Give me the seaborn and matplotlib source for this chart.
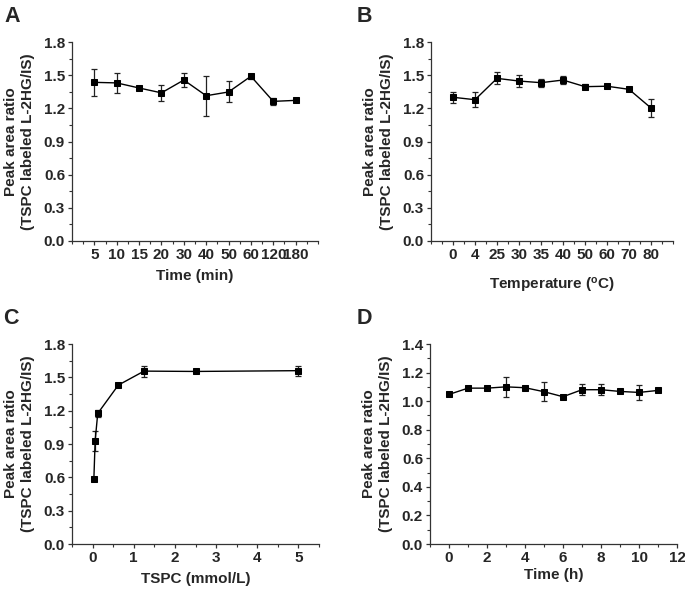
import numpy as np
import pandas as pd
import seaborn as sns
import matplotlib.pyplot as plt
from matplotlib.ticker import MultipleLocator

# Panel A - reaction time
time_min_labels = ['5', '10', '15', '20', '30', '40', '50', '60', '120', '180']
ratio_a = [1.435, 1.43, 1.384, 1.34, 1.456, 1.314, 1.348, 1.49, 1.263, 1.272]
err_a = [0.125, 0.09, 0.01, 0.07, 0.06, 0.18, 0.095, 0.025, 0.03, 0.015]

# Panel B - temperature
temp_labels = ['0', '4', '25', '30', '35', '40', '50', '60', '70', '80']
ratio_b = [1.30, 1.278, 1.471, 1.447, 1.432, 1.456, 1.396, 1.40, 1.372, 1.203]
err_b = [0.05, 0.07, 0.055, 0.05, 0.035, 0.04, 0.02, 0.02, 0.01, 0.085]

# Panel C - TSPC concentration
tspc_conc = [0.03125, 0.0625, 0.125, 0.625, 1.25, 2.5, 5]
ratio_c = [0.586, 0.93, 1.175, 1.43, 1.556, 1.553, 1.56]
err_c = [0.02, 0.09, 0.03, 0.01, 0.05, 0.008, 0.045]

# Panel D - stability over hours
time_h = [0, 1, 2, 3, 4, 5, 6, 7, 8, 9, 10, 11]
ratio_d = [1.047, 1.091, 1.091, 1.10, 1.094, 1.066, 1.031, 1.08, 1.08, 1.068, 1.061, 1.075]
err_d = [0.006, 0.006, 0.005, 0.07, 0.006, 0.068, 0.01, 0.04, 0.04, 0.005, 0.05, 0.006]

sns.set_style("ticks")
plt.rcParams['font.family'] = ['Liberation Sans', 'DejaVu Sans']
plt.rcParams['font.weight'] = 'bold'
plt.rcParams['axes.labelweight'] = 'bold'
plt.rcParams['mathtext.default'] = 'regular'

fig = plt.figure(figsize=(6.85, 5.9), dpi=100)
W, H = 685, 590
FS = 11


def make_ax(l, r, t, b):
    return fig.add_axes([l / W, 1 - b / H, (r - l) / W, (b - t) / H])


def draw(ax, x, y, err):
    df = pd.DataFrame({'x': x, 'y': y})
    ax.errorbar(x, y, yerr=err, fmt='none', ecolor='#222222', elinewidth=0.9,
                capsize=2.5, capthick=0.9, zorder=2)
    sns.lineplot(data=df, x='x', y='y', ax=ax, color='black', linewidth=1,
                 marker='s', markersize=4, markeredgecolor='black', zorder=3)


def style(ax, xlabel, ylim, ymajor, xpad=4):
    ax.set_ylim(*ylim)
    ax.yaxis.set_major_locator(MultipleLocator(ymajor))
    ax.yaxis.set_minor_locator(MultipleLocator(ymajor / 2))
    ax.yaxis.set_major_formatter(plt.FormatStrFormatter('%.1f'))
    ax.set_xlabel(xlabel, fontsize=FS, fontweight='bold', labelpad=xpad)
    ax.set_ylabel('Peak area ratio\n(TSPC labeled L-2HG/IS)', fontsize=FS,
                  fontweight='bold', labelpad=6, linespacing=1.3)
    ax.tick_params(axis='both', which='major', direction='out', length=3,
                   width=0.9, labelsize=FS, color='#333333', pad=2)
    ax.tick_params(axis='both', which='minor', direction='out', length=2,
                   width=0.8, color='#333333')
    for lab in ax.get_xticklabels() + ax.get_yticklabels():
        lab.set_fontweight('bold')
    for s in ['left', 'bottom']:
        ax.spines[s].set_linewidth(0.9)
        ax.spines[s].set_color('#333333')
    sns.despine(ax=ax)


# A
ax_a = make_ax(72, 318, 42, 241)
pos_a = np.arange(1, len(time_min_labels) + 1)
draw(ax_a, pos_a, ratio_a, err_a)
ax_a.set_xlim(0, 11)
ax_a.set_xticks(pos_a)
ax_a.set_xticklabels(time_min_labels)
ax_a.xaxis.set_minor_locator(MultipleLocator(0.5))
style(ax_a, 'Time (min)', (0, 1.8), 0.3, xpad=5)

# B
ax_b = make_ax(431, 673, 42, 241)
pos_b = np.arange(1, len(temp_labels) + 1)
draw(ax_b, pos_b, ratio_b, err_b)
ax_b.set_xlim(0, 11)
ax_b.set_xticks(pos_b)
ax_b.set_xticklabels(temp_labels)
ax_b.xaxis.set_minor_locator(MultipleLocator(0.5))
style(ax_b, 'Temperature ($^{o}$C)', (0, 1.8), 0.3, xpad=10)

# C
ax_c = make_ax(72, 319, 344, 544)
draw(ax_c, tspc_conc, ratio_c, err_c)
ax_c.set_xlim(-0.5, 5.5)
ax_c.xaxis.set_major_locator(MultipleLocator(1))
ax_c.xaxis.set_minor_locator(MultipleLocator(0.5))
style(ax_c, 'TSPC (mmol/L)', (0, 1.8), 0.3, xpad=5)

# D
ax_d = make_ax(430, 677, 344, 544)
draw(ax_d, time_h, ratio_d, err_d)
ax_d.set_xlim(-1, 12)
ax_d.xaxis.set_major_locator(MultipleLocator(2))
ax_d.xaxis.set_minor_locator(MultipleLocator(1))
style(ax_d, 'Time (h)', (0, 1.4), 0.2, xpad=2)

for letter, (x, y) in zip('ABCD', [(4, 6), (357, 6), (3, 308), (357, 308)]):
    fig.text(x / W, 1 - y / H, letter, fontsize=15.5, fontweight='bold',
             va='top', ha='left')

fig.savefig('out.png', dpi=100)
